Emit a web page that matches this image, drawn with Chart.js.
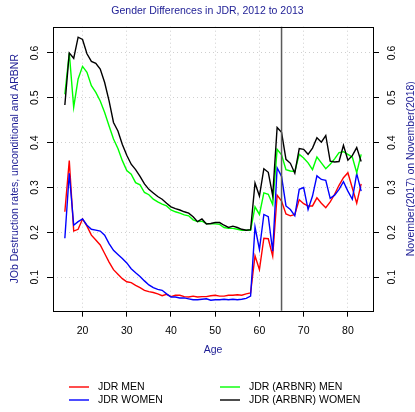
<!DOCTYPE html>
<html>
<head>
<meta charset="utf-8">
<script src="https://cdn.jsdelivr.net/npm/chart.js@4"></script>
<style>
html,body{margin:0;padding:0;background:#fff;}
canvas{display:block;}
</style>
</head>
<body>
<canvas id="c" width="415" height="412"></canvas>
<script>
const ages = [16,17,18,19,20,21,22,23,24,25,26,27,28,29,30,31,32,33,34,35,36,37,38,39,40,41,42,43,44,45,46,47,48,49,50,51,52,53,54,55,56,57,58,59,60,61,62,63,64,65,66,67,68,69,70,71,72,73,74,75,76,77,78,79,80,81,82,83];

const jdrMen = [0.246,0.360,0.203,0.207,0.230,0.214,0.194,0.183,0.172,0.153,0.134,0.117,0.107,0.097,0.090,0.088,0.082,0.077,0.071,0.068,0.066,0.063,0.059,0.062,0.057,0.060,0.060,0.057,0.056,0.058,0.056,0.057,0.057,0.059,0.060,0.058,0.058,0.060,0.060,0.061,0.060,0.063,0.065,0.148,0.117,0.187,0.186,0.147,0.283,0.270,0.241,0.237,0.240,0.273,0.264,0.259,0.259,0.277,0.265,0.255,0.268,0.285,0.305,0.322,0.333,0.299,0.265,0.308];

const jdrWomen = [0.187,0.332,0.216,0.224,0.230,0.216,0.207,0.205,0.203,0.194,0.175,0.160,0.151,0.142,0.132,0.119,0.110,0.102,0.092,0.083,0.077,0.073,0.071,0.063,0.056,0.056,0.054,0.054,0.052,0.050,0.050,0.051,0.052,0.049,0.050,0.050,0.051,0.050,0.051,0.050,0.051,0.053,0.058,0.212,0.162,0.240,0.235,0.158,0.344,0.325,0.259,0.251,0.237,0.296,0.300,0.251,0.281,0.326,0.318,0.316,0.276,0.283,0.296,0.313,0.292,0.274,0.331,0.292];

const arbnrMen = [0.508,0.600,0.479,0.542,0.570,0.557,0.527,0.512,0.493,0.467,0.437,0.408,0.387,0.360,0.338,0.330,0.311,0.306,0.289,0.284,0.274,0.268,0.263,0.259,0.250,0.246,0.243,0.239,0.237,0.228,0.224,0.225,0.220,0.219,0.219,0.218,0.211,0.209,0.209,0.207,0.205,0.205,0.205,0.257,0.240,0.288,0.285,0.262,0.385,0.373,0.340,0.337,0.336,0.374,0.366,0.355,0.340,0.368,0.355,0.342,0.352,0.364,0.378,0.380,0.374,0.368,0.333,0.374];

const arbnrWomen = [0.484,0.600,0.588,0.635,0.630,0.598,0.581,0.577,0.564,0.534,0.493,0.445,0.426,0.396,0.372,0.352,0.340,0.325,0.308,0.296,0.288,0.280,0.274,0.265,0.257,0.253,0.250,0.246,0.243,0.235,0.224,0.230,0.219,0.220,0.222,0.222,0.216,0.211,0.214,0.211,0.207,0.205,0.206,0.310,0.281,0.342,0.334,0.282,0.434,0.423,0.363,0.354,0.332,0.387,0.385,0.374,0.388,0.411,0.401,0.416,0.359,0.357,0.358,0.394,0.361,0.371,0.389,0.358];

const seriesLabels = ['JDR MEN','JDR WOMEN','JDR (ARBNR) MEN','JDR (ARBNR) WOMEN'];
const seriesColors = ['#ff0000','#0000ff','#00ff00','#000000'];
const xTicks = [20,30,40,50,60,70,80];
const yTicks = [0.1,0.2,0.3,0.4,0.5,0.6];
const yTickLabels = ['0.1','0.2','0.3','0.4','0.5','0.6'];
const cutoffAge = 65;

const titleText = 'Gender Differences in JDR, 2012 to 2013';
const xTitle = 'Age';
const yTitleLeft = 'JOb Destruction rates, unconditional and ARBNR';
const yTitleRight = 'November(2017) on November(2018)';

const FONT = '"Liberation Sans", Arial, Helvetica, sans-serif';
const TXT = '#1c1c94';

const allSeries = [jdrMen, jdrWomen, arbnrMen, arbnrWomen];
const datasets = allSeries.map((vals, i) => ({
  label: seriesLabels[i],
  data: ages.map((a, k) => ({x: a, y: vals[k]})),
  borderColor: seriesColors[i],
  backgroundColor: seriesColors[i],
  borderWidth: 1.4,
  pointRadius: 0,
  tension: 0,
  fill: false,
  order: 4 - i,
  yAxisID: 'y'
}));

const xMin = 16 - 0.04 * (83 - 16);
const xMax = 83 + 0.04 * (83 - 16);
const dMin = 0.049, dMax = 0.635;
const yMin = dMin - 0.04 * (dMax - dMin);
const yMax = dMax + 0.04 * (dMax - dMin);

const decor = {
  id: 'decor',
  afterDraw(chart) {
    const {ctx, chartArea: a, scales} = chart;
    ctx.save();
    // cutoff line
    const cx = scales.x.getPixelForValue(cutoffAge);
    ctx.strokeStyle = '#5a5a5a';
    ctx.lineWidth = 1.5;
    ctx.beginPath();
    ctx.moveTo(cx, a.top);
    ctx.lineTo(cx, a.bottom);
    ctx.stroke();
    // box
    ctx.strokeStyle = '#000';
    ctx.lineWidth = 1;
    ctx.strokeRect(Math.round(a.left) + 0.5, Math.round(a.top) + 0.5,
                   Math.round(a.right) - Math.round(a.left), Math.round(a.bottom) - Math.round(a.top));
    // y tick labels (rotated, both sides)
    ctx.fillStyle = '#000';
    ctx.font = '10.5px ' + FONT;
    ctx.textAlign = 'center';
    ctx.textBaseline = 'middle';
    yTicks.forEach((v, i) => {
      const py = scales.y.getPixelForValue(v);
      [a.left - 18, a.right + 19].forEach(px => {
        ctx.save();
        ctx.translate(px, py);
        ctx.rotate(-Math.PI / 2);
        ctx.fillText(yTickLabels[i], 0, 0);
        ctx.restore();
      });
    });
    // axis titles
    ctx.fillStyle = TXT;
    const my = (a.top + a.bottom) / 2;
    ctx.save();
    ctx.translate(15, my);
    ctx.rotate(-Math.PI / 2);
    ctx.fillText(yTitleLeft, 0, 0);
    ctx.restore();
    ctx.save();
    ctx.translate(a.right + 38, my);
    ctx.rotate(-Math.PI / 2);
    ctx.fillText(yTitleRight, 0, 0);
    ctx.restore();
    ctx.fillText(xTitle, (a.left + a.right) / 2, a.bottom + 39.5);
    // legend (2 columns, column-wise fill)
    ctx.textAlign = 'left';
    const colX = [69, 220];
    const rowY = [387, 400];
    chart.data.datasets.forEach((ds, i) => {
      const col = Math.floor(i / 2), row = i % 2;
      const lx = colX[col], ly = rowY[row];
      ctx.strokeStyle = ds.borderColor;
      ctx.lineWidth = 1.4;
      ctx.beginPath();
      ctx.moveTo(lx, ly);
      ctx.lineTo(lx + 20, ly);
      ctx.stroke();
      ctx.fillStyle = '#000';
      ctx.fillText(ds.label, lx + 29, ly);
    });
    ctx.restore();
  }
};

new Chart(document.getElementById('c'), {
  type: 'line',
  data: {datasets},
  options: {
    responsive: false,
    animation: false,
    devicePixelRatio: 1,
    layout: {padding: {top: 0, left: 0, right: 0, bottom: 0}},
    plugins: {
      legend: {display: false},
      tooltip: {enabled: false},
      title: {
        display: true,
        text: titleText,
        color: TXT,
        font: {family: FONT, size: 10.5, weight: 'normal', lineHeight: 1.2},
        padding: {top: 4.5, bottom: 9.6}
      }
    },
    scales: {
      x: {
        type: 'linear',
        min: xMin,
        max: xMax,
        afterBuildTicks: s => { s.ticks = xTicks.map(v => ({value: v})); },
        afterFit: s => { s.height = 412 - 310.7; },
        ticks: {color: '#000', font: {family: FONT, size: 10.5}, padding: 8, maxRotation: 0, autoSkip: false,
                callback: v => String(v)},
        grid: {color: '#cfcfcf', lineWidth: 1, borderDash: [1, 3], tickBorderDash: [], tickColor: '#000', tickLength: 6, tickWidth: 1},
        border: {display: false, dash: [1, 3]}
      },
      y: {
        type: 'linear',
        position: 'left',
        min: yMin,
        max: yMax,
        afterBuildTicks: s => { s.ticks = yTicks.map(v => ({value: v})); },
        afterFit: s => { s.width = 53; },
        ticks: {display: false},
        grid: {color: '#cfcfcf', lineWidth: 1, borderDash: [1, 3], tickBorderDash: [], tickColor: '#000', tickLength: 6, tickWidth: 1},
        border: {display: false, dash: [1, 3]}
      },
      y2: {
        type: 'linear',
        position: 'right',
        min: yMin,
        max: yMax,
        afterBuildTicks: s => { s.ticks = yTicks.map(v => ({value: v})); },
        afterFit: s => { s.width = 42; },
        ticks: {display: false},
        grid: {drawOnChartArea: false, tickBorderDash: [], tickColor: '#000', tickLength: 6, tickWidth: 1},
        border: {display: false}
      }
    }
  },
  plugins: [decor]
});
</script>
</body>
</html>
